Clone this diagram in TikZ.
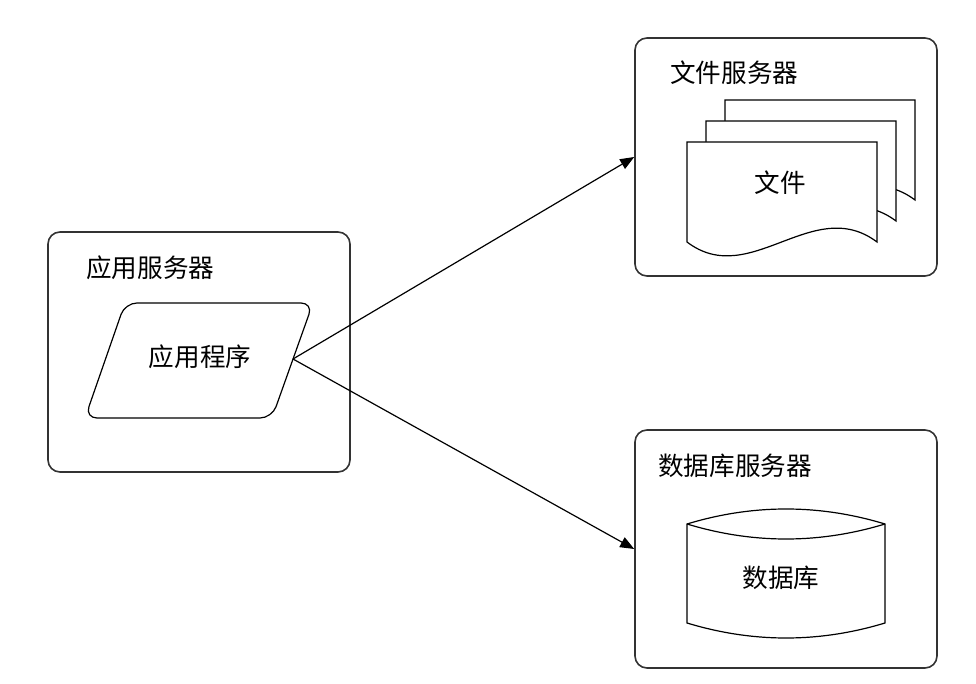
\documentclass[tikz,border=0pt]{standalone}
\usepackage{fontspec}
\newfontfamily\cjk{Noto Sans CJK SC}
\usetikzlibrary{arrows.meta}

\begin{document}
\begin{tikzpicture}[x=0.5pt,y=-0.5pt,line width=0.6pt,
  font=\cjk\fontsize{12.8}{15}\selectfont,
  server/.style={draw=black!80,line width=0.8pt,rounded corners=6pt,
    minimum width=151pt,minimum height=119pt},
  link/.style={-{Triangle[length=7pt,width=5.5pt]}}]
  \useasboundingbox (0,0) rectangle (976,684);
  \node[server,minimum height=120pt] (appsrv) at (199,352) {};
  \node[server] (filesrv) at (786,157) {};
  \node[server] (dbsrv) at (786,549) {};
  \node[anchor=west] (applbl) at (79,268) {应用服务器};
  \node[anchor=west] (filelbl) at (663,73) {文件服务器};
  \node[anchor=west] (dblbl) at (651,466) {数据库服务器};
  \draw[rounded corners=6pt] (125,303) -- (313,303) -- (272,418) -- (85,418) -- cycle;
  \coordinate (appR) at (293,359);
  \node (app) at (200,357) {应用程序};
  \foreach \dx/\dy in {38/-42,19/-21,0/0}
    \draw[fill=white,shift={(\dx,\dy)}] (687,142) -- (877,142) -- (877,242)
      .. controls (813,194) and (750,290) .. (687,242) -- cycle;
  \node (file) at (780,183) {文件};
  \draw[fill=white] (687,524) -- (687,623) .. controls (753,643) and (819,643) .. (885,623)
    -- (885,524) .. controls (819,504) and (753,504) .. (687,524) -- cycle;
  \draw (687,524) .. controls (753,544) and (819,544) .. (885,524);
  \node (db) at (781,578) {数据库};
  \draw[link] (appR) -- (filesrv.west);
  \draw[link] (appR) -- (dbsrv.west);
\end{tikzpicture}
\end{document}
